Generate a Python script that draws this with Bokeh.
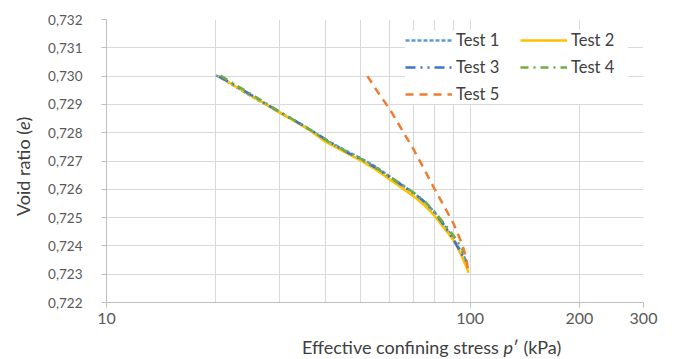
from bokeh.plotting import figure
from bokeh.models import (FixedTicker, CustomJSTickFormatter, Legend, LegendItem,
                          Range1d, Div)
from bokeh.layouts import column, row
from bokeh.embed import file_html
from bokeh.resources import INLINE

# ---------------- data ----------------
p1 = [20.0, 21, 23, 25, 28, 30, 33, 36, 40, 45, 50, 55, 60, 65, 70, 75, 80, 85, 90, 94, 96.5, 97.8, 98.2]
e1 = [0.73003, 0.72988, 0.72957, 0.72929, 0.72893, 0.72871, 0.72842, 0.72814, 0.72775, 0.72740,
      0.72710, 0.72680, 0.72646, 0.72616, 0.72587, 0.72556, 0.72518, 0.72474, 0.72425, 0.72385,
      0.72360, 0.72340, 0.72333]

p2 = [20.3, 22, 25, 28, 30, 33, 36, 40, 45, 50, 55, 60, 65, 70, 75, 80, 85, 90, 92, 94, 96, 97.5, 98.5, 99.0]
e2 = [0.73000, 0.72973, 0.72931, 0.72894, 0.72870, 0.72840, 0.72811, 0.72768, 0.72733, 0.72702,
      0.72670, 0.72636, 0.72605, 0.72575, 0.72543, 0.72505, 0.72462, 0.72420, 0.72400, 0.72375,
      0.72348, 0.72330, 0.72315, 0.72305]

p3 = [20.4, 22, 24, 26, 29, 32, 35, 38, 42, 46, 50, 55, 60, 65, 70, 75, 80, 85, 90, 93, 95.5, 97.2, 98.0, 98.4]
e3 = [0.72998, 0.72976, 0.72947, 0.72920, 0.72884, 0.72852, 0.72823, 0.72795, 0.72760, 0.72730,
      0.72707, 0.72676, 0.72644, 0.72614, 0.72586, 0.72555, 0.72517, 0.72472, 0.72422, 0.72390,
      0.72365, 0.72350, 0.72340, 0.72350]

p4 = [20.6, 22, 24, 27, 30, 33, 37, 41, 45, 50, 55, 60, 65, 70, 75, 80, 85, 90, 93, 95, 96.5]
e4 = [0.73002, 0.72978, 0.72950, 0.72910, 0.72873, 0.72843, 0.72804, 0.72766, 0.72738, 0.72708,
      0.72677, 0.72645, 0.72616, 0.72588, 0.72558, 0.72520, 0.72478, 0.72437, 0.72410, 0.72390,
      0.72376]

p5 = [52.2, 56, 60, 65, 70, 75, 80, 85, 90, 95, 97.5, 98.6, 99.0]
e5 = [0.73000, 0.72940, 0.72885, 0.72810, 0.72740, 0.72668, 0.72600, 0.72538, 0.72480, 0.72408,
      0.72360, 0.72320, 0.72310]

series_names = ["Test 1", "Test 2", "Test 3", "Test 4", "Test 5"]

x_ticks = [10, 100, 200, 300]
x_minor = [20, 30, 40, 50, 60, 70, 80, 90]
y_ticks = [0.722, 0.723, 0.724, 0.725, 0.726, 0.727, 0.728, 0.729, 0.730, 0.731, 0.732]

x_title_html = "Effective confining stress <i>p</i>\u2032 (kPa)"
y_title_html = "Void ratio (<i>e</i>)"

# ---------------- figure ----------------
p = figure(width=635, height=330, x_axis_type="log",
           x_range=Range1d(10, 300), y_range=Range1d(0.722, 0.732),
           output_backend="svg", toolbar_location=None,
           min_border_left=66, min_border_right=32, min_border_top=19, min_border_bottom=28,
           margin=0)
p.outline_line_color = None
p.background_fill_color = "white"
p.border_fill_color = "white"

grid_col = "#D9D9D9"
axis_col = "#BFBFBF"
tick_text = "#595959"
title_text = "#404040"
font = "Lato"

p.xaxis.ticker = FixedTicker(ticks=x_ticks, minor_ticks=x_minor)
p.xaxis.formatter = CustomJSTickFormatter(code="return tick.toFixed(0);")
p.yaxis.ticker = FixedTicker(ticks=y_ticks)
p.yaxis.formatter = CustomJSTickFormatter(code="return tick.toFixed(3).replace('.', ',');")

for ax in (p.xaxis, p.yaxis):
    ax.axis_line_color = axis_col
    ax.major_tick_line_color = axis_col
    ax.major_tick_out = 5
    ax.major_tick_in = 0
    ax.minor_tick_line_color = None
    ax.major_label_text_font = font
    ax.major_label_text_color = tick_text
p.yaxis.major_label_text_font_size = "13.5px"
p.xaxis.major_label_text_font_size = "16px"
p.yaxis.major_label_standoff = 19
p.xaxis.major_label_standoff = 5

p.xgrid.grid_line_color = grid_col
p.xgrid.minor_grid_line_color = grid_col
p.ygrid.grid_line_color = grid_col

styles = [
    dict(color="#5B9BD5", dash="4 2"),
    dict(color="#FFC000", dash="solid"),
    dict(color="#4472C4", dash="10 5 2 5 2 5"),
    dict(color="#70AD47", dash="8 5 2 5"),
    dict(color="#ED7D31", dash="8 6"),
]
data = [(p1, e1), (p2, e2), (p3, e3), (p4, e4), (p5, e5)]
renderers = []
for (xs, ys), st in zip(data, styles):
    r = p.line(xs, ys, line_color=st["color"], line_width=2.5, line_dash=st["dash"])
    renderers.append(r)

items = [LegendItem(label=n, renderers=[r]) for n, r in zip(series_names, renderers)]
legend = Legend(items=items, location=(299, 198), orientation="horizontal", ncols=2,
                glyph_width=47, glyph_height=20, label_standoff=4, label_width=57,
                spacing=7, padding=10, border_line_color=None,
                background_fill_color="white", background_fill_alpha=1.0,
                label_text_font=font, label_text_font_size="16.5px",
                label_text_color=title_text)
p.add_layout(legend, "center")

# ---------------- axis titles as HTML (for the italic symbols) ----------------
ydiv = Div(width=40, height=330, margin=0,
           text=('<div style="position:absolute; left:0; top:0; white-space:nowrap; '
                 'font-family:Lato; font-size:18px; line-height:20px; color:%s; '
                 'transform-origin:0 0; transform:translate(13px, 216px) rotate(-90deg);">%s</div>'
                 % (title_text, y_title_html)),
           styles={"position": "relative", "overflow": "visible"})
xdiv = Div(width=675, height=29, margin=0,
           text=('<div style="position:absolute; left:302px; top:7px; white-space:nowrap; '
                 'font-family:Lato; font-size:18px; line-height:20px; color:%s;">%s</div>'
                 % (title_text, x_title_html)),
           styles={"position": "relative", "overflow": "visible"})

layout = column(row(ydiv, p, spacing=0, margin=0), xdiv, spacing=0, margin=0)

open("out.html", "w").write(file_html(layout, INLINE))
